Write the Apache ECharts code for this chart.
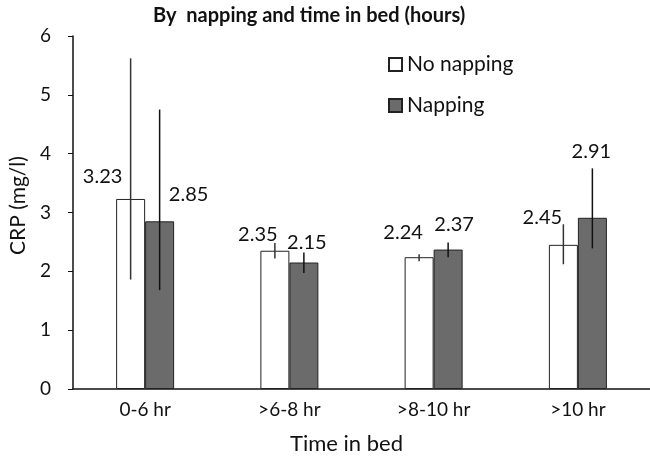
<!DOCTYPE html>
<html>
<head>
<meta charset="utf-8">
<script src="https://cdn.jsdelivr.net/npm/echarts@6/dist/echarts.min.js"></script>
<style>
  html, body { margin: 0; padding: 0; background: #fff; }
  #chart { width: 650px; height: 460px; }
</style>
</head>
<body>
<div id="chart"></div>
<script>
const categories = ['0-6 hr', '>6-8 hr', '>8-10 hr', '>10 hr'];
const noNapping = [3.23, 2.35, 2.24, 2.45];
const napping = [2.85, 2.15, 2.37, 2.91];
// error bar ends (low, high)
const noNappingLow = [1.86, 2.22, 2.17, 2.12];
const noNappingHigh = [5.62, 2.48, 2.29, 2.80];
const nappingLow = [1.68, 1.97, 2.24, 2.39];
const nappingHigh = [4.75, 2.32, 2.49, 3.75];
const yTicks = [0, 1, 2, 3, 4, 5, 6];

const font = 'Lato, "Noto Sans", sans-serif';
const barWidth = 29;

// label nudges so the numbers sit beside the error bars like in the original
const noNapNudge = [[-28, -7], [-17, -1], [-16, -10], [-21, -12]];
const napNudge = [[29, -12], [3, -5], [6, -10], [-1, -51]];

function barData(values, nudges) {
  return values.map((v, i) => ({
    value: v,
    label: { offset: nudges[i] }
  }));
}

function errorSeries(low, high, shift, color) {
  return {
    type: 'custom',
    silent: true,
    z: 10,
    data: low.map((l, i) => [i, l, high[i]]),
    renderItem(params, api) {
      const x = api.coord([api.value(0), 0])[0] + shift;
      const y1 = api.coord([api.value(0), api.value(1)])[1];
      const y2 = api.coord([api.value(0), api.value(2)])[1];
      return {
        type: 'line',
        shape: { x1: x, y1: y1, x2: x, y2: y2 },
        style: { stroke: color, lineWidth: 1.5 }
      };
    }
  };
}

const chart = echarts.init(document.getElementById('chart'));
chart.setOption({
  animation: false,
  textStyle: { fontFamily: font },
  title: {
    text: 'By  napping and time in bed (hours)',
    left: 148,
    top: 1,
    textStyle: { fontFamily: font, fontSize: 20, fontWeight: 'bold', color: '#111' }
  },
  legend: {
    orient: 'vertical',
    left: 383,
    top: 49,
    itemWidth: 13,
    itemHeight: 13,
    itemGap: 20,
    icon: 'rect',
    data: ['No napping', 'Napping'],
    textStyle: { fontFamily: font, fontSize: 21, color: '#111' }
  },
  grid: { left: 66, right: 0, top: 36, bottom: 66 },
  xAxis: {
    type: 'category',
    data: categories,
    name: 'Time in bed',
    nameLocation: 'middle',
    nameGap: 44,
    nameTextStyle: { fontFamily: font, fontSize: 22, color: '#111', padding: [0, 30, 0, 0] },
    axisLine: { lineStyle: { color: '#111', width: 1.5 } },
    axisTick: { show: false },
    axisLabel: { fontFamily: font, fontSize: 19, color: '#111', margin: 11 }
  },
  yAxis: {
    type: 'value',
    min: 0,
    max: 6,
    interval: 1,
    name: 'CRP (mg/l)',
    nameLocation: 'middle',
    nameGap: 44,
    nameTextStyle: { fontFamily: font, fontSize: 21, color: '#111', padding: [0, 0, 0, 14] },
    axisLine: { show: true, lineStyle: { color: '#111', width: 1.5 } },
    axisTick: { show: true, inside: false, length: 5, lineStyle: { color: '#111' } },
    splitLine: { show: false },
    axisLabel: {
      fontFamily: font, fontSize: 19, color: '#111', margin: 22,
      formatter: v => yTicks.includes(v) ? String(v) : ''
    }
  },
  series: [
    {
      name: 'No napping',
      type: 'bar',
      barWidth: barWidth,
      barGap: '0%',
      data: barData(noNapping, noNapNudge),
      itemStyle: { color: '#fff', borderColor: '#222', borderWidth: 1 },
      label: { show: true, position: 'top', fontFamily: font, fontSize: 20, color: '#111' }
    },
    {
      name: 'Napping',
      type: 'bar',
      barWidth: barWidth,
      barGap: '0%',
      data: barData(napping, napNudge),
      itemStyle: { color: '#6b6b6b', borderColor: '#222', borderWidth: 1 },
      label: { show: true, position: 'top', fontFamily: font, fontSize: 20, color: '#111' }
    },
    errorSeries(noNappingLow, noNappingHigh, -barWidth / 2, '#333'),
    errorSeries(nappingLow, nappingHigh, barWidth / 2, '#111')
  ]
});
</script>
</body>
</html>
